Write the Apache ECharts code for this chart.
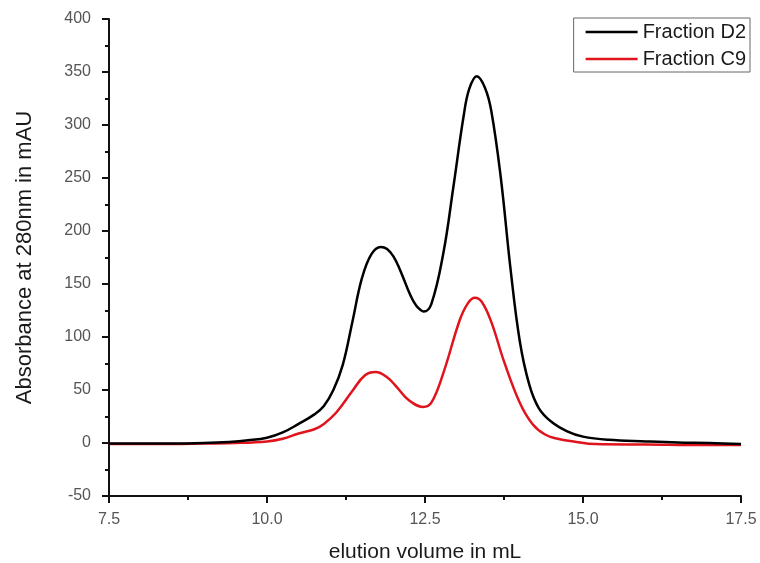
<!DOCTYPE html>
<html>
<head>
<meta charset="utf-8">
<script src="https://cdn.jsdelivr.net/npm/echarts@6/dist/echarts.min.js"></script>
<style>
  html, body { margin: 0; padding: 0; background: #fff; }
  #chart { width: 760px; height: 563px; }
</style>
</head>
<body>
<div id="chart"></div>
<script>
// elution volume (mL) / absorbance (mAU)
const d2Volume = [7.5, 8.0, 8.5, 9.0, 9.4, 9.7, 10.0, 10.25, 10.5, 10.75, 10.9, 11.05, 11.2, 11.35, 11.5, 11.65, 11.8, 11.9, 12.0, 12.1, 12.175, 12.25, 12.325, 12.4, 12.48, 12.6, 12.79, 12.95, 13.11, 13.2, 13.32, 13.45, 13.55, 13.7, 13.85, 14.0, 14.15, 14.3, 14.5, 14.75, 15.0, 15.4, 16.0, 16.5, 17.0, 17.5]
const d2Abs = [-0.5, -0.5, -0.5, 0, 1, 2.5, 5, 10, 18, 27, 35, 50, 74, 114, 155, 178, 185, 183, 176, 164, 153, 142, 133, 127, 124, 131, 179, 242, 308, 334, 346, 335, 313, 250, 166, 96, 55, 33, 20, 11, 6, 3, 1.5, 0.5, 0, -1]

const c9Volume = [7.5, 8.0, 8.5, 9.0, 9.5, 10.0, 10.25, 10.5, 10.75, 10.9, 11.1, 11.35, 11.55, 11.72, 11.9, 12.05, 12.25, 12.47, 12.6, 12.79, 13.05, 13.18, 13.29, 13.4, 13.55, 13.75, 14.0, 14.2, 14.4, 14.6, 14.85, 15.2, 16.0, 17.0, 17.5]
const c9Abs = [-1, -1, -1, -0.5, 0, 1.5, 4, 9, 13, 18, 29, 49, 64, 67, 62, 53, 40, 34, 38, 66, 116, 132, 137, 133, 114, 77, 38, 18, 8, 4, 1.5, -1, -1.5, -2, -2]

const seriesNames = ['Fraction D2', 'Fraction C9']
const xTicks = { min: 7.5, max: 17.5, step: 2.5 }
const yTicks = { min: -50, max: 400, step: 50 }

const pair = (xs, ys) => xs.map((x, i) => [x, ys[i]])

const chart = echarts.init(document.getElementById('chart'))

const font = 'Liberation Sans, Arial, sans-serif'
const axisCommon = {
  axisLine: { show: true, onZero: false, lineStyle: { color: '#111', width: 2 } },
  axisTick: { show: true, inside: false, length: 7, lineStyle: { color: '#111', width: 2 } },
  minorTick: { show: true, splitNumber: 2, length: 4, lineStyle: { color: '#111', width: 2 } },
  splitLine: { show: false },
  nameTextStyle: { fontFamily: font, fontSize: 21, color: '#1a1a1a' }
}

chart.setOption({
  animation: false,
  textStyle: { fontFamily: font },
  grid: { left: 109, right: 19, top: 19, bottom: 67, containLabel: false, outerBoundsMode: 'none' },
  legend: {
    data: seriesNames,
    orient: 'vertical',
    right: 10,
    top: 18,
    padding: [4, 4, 3, 12],
    icon: 'rect',
    itemWidth: 52,
    itemHeight: 2.5,
    itemGap: 7,
    borderColor: '#666',
    borderWidth: 1,
    textStyle: { fontSize: 20, lineHeight: 20, color: '#1a1a1a' }
  },
  xAxis: {
    ...axisCommon,
    type: 'value',
    min: xTicks.min,
    max: xTicks.max,
    interval: xTicks.step,
    name: 'elution volume in mL',
    nameLocation: 'middle',
    nameGap: 46,
    axisLabel: { margin: 16, fontSize: 16, color: '#555', formatter: v => v.toFixed(1) }
  },
  yAxis: {
    ...axisCommon,
    type: 'value',
    min: yTicks.min,
    max: yTicks.max,
    interval: yTicks.step,
    name: 'Absorbance at 280nm in mAU',
    nameLocation: 'middle',
    nameGap: 73,
    nameTextStyle: { fontFamily: font, fontSize: 22, color: '#1a1a1a' },
    axisLabel: { margin: 18, fontSize: 16, color: '#555' }
  },
  series: [
    {
      name: seriesNames[0],
      type: 'line',
      data: pair(d2Volume, d2Abs),
      smooth: 0.4,
      symbol: 'none',
      lineStyle: { color: '#000', width: 2.5 },
      itemStyle: { color: '#000' },
      z: 3
    },
    {
      name: seriesNames[1],
      type: 'line',
      data: pair(c9Volume, c9Abs),
      smooth: 0.4,
      symbol: 'none',
      lineStyle: { color: '#e0141c', width: 2.5 },
      itemStyle: { color: '#e0141c' },
      z: 2
    }
  ]
})
</script>
</body>
</html>
